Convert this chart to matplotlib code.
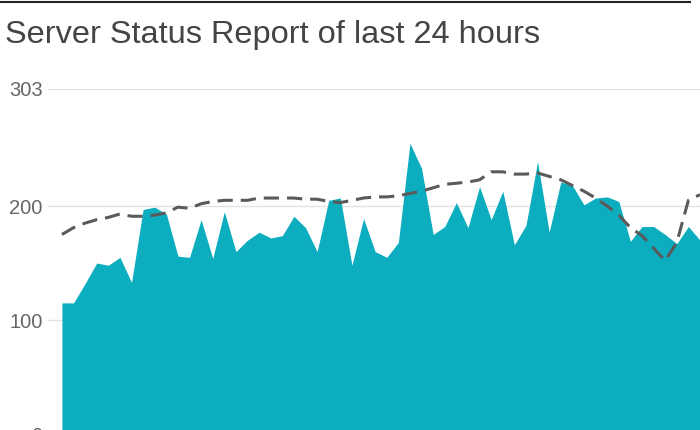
import numpy as np
import matplotlib
matplotlib.use("Agg")
import matplotlib.pyplot as plt

# server load per sample (area) and trend line (dashed)
load = [115, 115, 132, 150, 148, 155, 133, 197, 199, 193,
        156, 155, 188, 154, 195, 160, 170, 177, 172, 174,
        191, 181, 160, 205, 207, 148, 189, 160, 155, 168,
        255, 233, 175, 182, 203, 181, 217, 188, 213, 166,
        183, 239, 177, 221, 218, 201, 207, 208, 204, 169,
        182, 182, 175, 167, 182, 170]
trend = [175, 181, 185, 188, 190, 193, 191, 191, 192, 194,
         199, 198, 202, 204, 205, 205, 205, 207, 207, 207,
         207, 206, 206, 204, 203, 205, 207, 208, 208, 209,
         211, 213, 216, 219, 220, 221, 223, 230, 230, 228,
         228, 229, 226, 223, 218, 213, 207, 200, 192, 181,
         174, 163, 152, 168, 205, 210]
yticks = [0, 100, 200, 303]
title = "Server Status Report of last 24 hours"

x = np.arange(len(load))

fig = plt.figure(figsize=(7, 4.3), dpi=100)
ax = fig.add_axes([48 / 700, -4 / 430, 652 / 700, 345.4 / 430])

ax.fill_between(x, load, 0, color="#0badbf", linewidth=0, zorder=2)
ax.plot(x, trend, color="#5a5a5a", linewidth=2.2, dashes=(5, 2.6), zorder=3)

ax.set_xlim(-1.2, 55)
ax.set_ylim(0, 303)
ax.set_yticks(yticks)
ax.set_yticklabels([str(v) for v in yticks], fontsize=14.5, color="#666666",
                   family="Liberation Sans")
ax.tick_params(axis="y", length=0, pad=4)
ax.set_xticks([])
ax.grid(axis="y", color="#e2e2e2", linewidth=1, zorder=0)
ax.set_axisbelow(True)
for s in ax.spines.values():
    s.set_visible(False)

fig.text(5 / 700, 1 - 35 / 430, title, fontsize=23.4, color="#444444",
         family="Liberation Sans", va="center", ha="left")

# thin dark border at the top of the screenshot
fig.add_artist(plt.Line2D([0, 690 / 700], [1 - 1.5 / 430] * 2,
                          color="#222222", linewidth=1.5))

fig.savefig("out.png", dpi=100)
